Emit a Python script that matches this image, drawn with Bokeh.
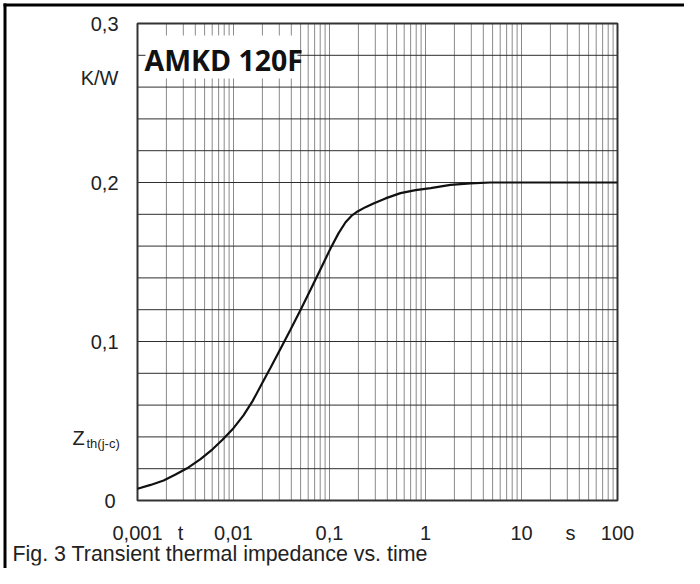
from bokeh.plotting import figure
from bokeh.models import Range1d
from bokeh.core.properties import value
from bokeh.embed import file_html
from bokeh.resources import INLINE

# ---- data ----
t_s = [0.001, 0.00137, 0.00187, 0.00249, 0.0034, 0.00453, 0.00604, 0.00768, 0.01,
       0.0127, 0.0158, 0.02, 0.0243, 0.0309, 0.0393, 0.0499, 0.0634, 0.0806, 0.1024,
       0.124, 0.147, 0.169, 0.196, 0.237, 0.287, 0.383, 0.549, 0.787, 1.13, 1.82,
       2.94, 4.75, 100]
zth = [0.0074, 0.0098, 0.0126, 0.0163, 0.0208, 0.0260, 0.0322, 0.0382, 0.0455,
       0.0535, 0.0625, 0.0740, 0.0835, 0.0955, 0.1075, 0.1198, 0.1325, 0.1455, 0.1585,
       0.1680, 0.1750, 0.1790, 0.1818, 0.1845, 0.1868, 0.1900, 0.1933, 0.1952, 0.1965,
       0.1985, 0.1995, 0.2000, 0.2000]

x_grid = [m * d for d in (0.001, 0.01, 0.1, 1, 10) for m in range(1, 10)] + [100]
y_grid = [0, 0.02, 0.04, 0.06, 0.08, 0.1, 0.12, 0.14, 0.16, 0.18, 0.2,
          0.22, 0.24, 0.26, 0.28, 0.3]

y_tick_vals = [0.3, 0.2, 0.1]
y_tick_text = ["0,3", "0,2", "0,1"]
x_tick_vals = [0.001, 0.01, 0.1, 1, 10, 100]
x_tick_text = ["0,001", "0,01", "0,1", "1", "10", "100"]

title_text = "AMKD 120F"
caption = "Fig. 3 Transient thermal impedance vs. time"

X0, X1, Y0, Y1 = 0.001, 100, 0.0, 0.3

# ---- page-pixel helpers (plot area spans page x 137..617, y 23..500) ----
FL, FR, FT, FB = 137, 617, 23, 500
W, H = 684, 568
def fx(px):
    return X0 * 10 ** ((px - FL) / ((FR - FL) / 5))
def fy(py):
    return (FB - py) / ((FB - FT) / (Y1 - Y0))

p = figure(width=W, height=H, x_axis_type="log",
           x_range=Range1d(fx(0), fx(W)), y_range=Range1d(fy(H), fy(0)),
           x_axis_location=None, y_axis_location=None,
           output_backend="svg", toolbar_location=None,
           min_border=0)
p.background_fill_color = "white"
p.border_fill_color = "white"
p.outline_line_color = "white"
p.outline_line_width = 3
p.grid.visible = False

# grid (drawn from the tick lists through the plot's scales)
p.segment(x0=x_grid, x1=x_grid, y0=[Y0] * len(x_grid), y1=[Y1] * len(x_grid),
          line_color="#8a8a8a", line_width=1)
p.segment(x0=[X0] * len(y_grid), x1=[X1] * len(y_grid), y0=y_grid, y1=y_grid,
          line_color="#2e2e2e", line_width=1)
# plot frame
p.quad(left=[X0], right=[X1], bottom=[Y0], top=[Y1], fill_alpha=0,
       line_color="#333333", line_width=2)

# curve
p.line(t_s, zth, line_color="#111111", line_width=2.2)

# white box behind the type label
p.quad(left=[fx(145)], right=[fx(297)], bottom=[fy(78)], top=[fy(35)],
       fill_color="white", line_alpha=0)
p.text(x=[fx(144)], y=[fy(59)], text=[title_text], text_font=value("Open Sans"),
       text_font_style="bold", text_font_size=value("28.5px"), text_color="#111111",
       text_baseline="middle", text_align="left")

FONT = value("Liberation Sans")
def lab(xs, ys, txts, align="center", size="20px"):
    p.text(x=xs, y=ys, text=txts, text_font=FONT, text_font_size=value(size),
           text_color="#222222", text_align=align, text_baseline="middle")

lab([fx(118)] * len(y_tick_vals), y_tick_vals, y_tick_text, align="right")
lab([fx(115)], [0], ["0"], align="right")
lab([fx(118)], [fy(77)], ["K/W"], align="right")
lab([fx(72)], [fy(437)], ["Z"], align="left")
lab([fx(86)], [fy(443)], ["th(j-c)"], align="left", size="13px")

lab(x_tick_vals, [fy(532)] * len(x_tick_vals), x_tick_text)
lab([fx(180)], [fy(532)], ["t"])
lab([fx(570)], [fy(532)], ["s"])

lab([fx(12)], [fy(553)], [caption], align="left", size="21.4px")

# white cover along the canvas right/bottom edge
p.segment(x0=[fx(W - 1), fx(0)], x1=[fx(W - 1), fx(W)], y0=[fy(H), fy(H - 1)],
          y1=[fy(6), fy(H - 1)], line_color="white", line_width=4)

# outer frame lines (top and left)
p.segment(x0=[fx(4.5), fx(3)], x1=[fx(4.5), fx(W)], y0=[fy(H), fy(4.5)], y1=[fy(3), fy(4.5)],
          line_color="black", line_width=3)

open("out.html", "w").write(file_html(p, INLINE))
